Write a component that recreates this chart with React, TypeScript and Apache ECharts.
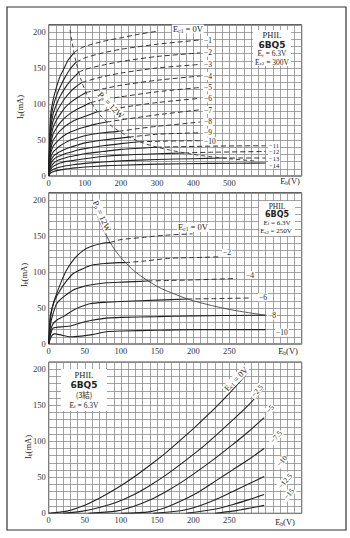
import React, { useEffect, useRef } from "react";
import * as echarts from "echarts";

// ---------- Panel 1 : PHIL 6BQ5, Ef = 6.3V, Ec2 = 300V ----------
const P1_X_TICKS = [0, 100, 200, 300, 400, 500];
const Y_TICKS = [0, 50, 100, 150, 200];
const PP_LIMIT = 12000; // Pp = 12 W  (V x mA)

const P1_EC1_0 = [[0,0],[3,60],[6,88],[12,105],[22,124],[31,138],[40,147],[54,161],[70,171],[80,175],[100,180],[150,187],[200,192],[250,197],[300,201]];
const P1_EC1_1 = [[0,0],[3,52],[6,78],[12,96],[22,112],[32,124],[45,137],[60,149],[76,158],[100,164],[150,171],[200,176],[300,183],[420,189]];
const P1_EC1_2 = [[0,0],[3,45],[6,68],[12,86],[22,100],[32,111],[45,122],[60,132],[83,144],[100,148],[150,154],[200,159],[300,166],[420,171]];
const P1_EC1_3 = [[0,0],[3,40],[6,60],[12,76],[22,89],[32,98],[45,108],[60,117],[75,124],[92,130],[150,138],[200,143],[300,150],[420,155]];
const P1_EC1_4 = [[0,0],[3,35],[6,52],[12,67],[22,78],[32,86],[45,95],[60,102],[80,109],[103,116],[150,121],[200,126],[300,133],[420,139]];
const P1_EC1_5 = [[0,0],[3,30],[6,45],[12,58],[22,67],[32,74],[45,81],[60,87],[80,93],[100,98],[116,102],[150,106],[200,110],[300,117],[420,123]];
const P1_EC1_6 = [[0,0],[3,26],[6,38],[12,49],[22,57],[32,63],[45,69],[60,74],[80,79],[100,83],[133,89],[200,95],[300,102],[420,108]];
const P1_EC1_7 = [[0,0],[3,22],[6,32],[12,41],[22,47],[32,52],[45,57],[60,61],[80,65],[100,68],[130,72],[160,75],[200,78],[300,85],[420,92]];
const P1_EC1_8 = [[0,0],[3,18],[6,26],[12,33],[22,38],[32,42],[45,46],[60,50],[80,53],[100,56],[150,60],[194,62],[250,66],[300,69],[420,75]];
const P1_EC1_9 = [[0,0],[3,14],[6,21],[12,27],[22,31],[32,34],[45,37],[60,40],[80,43],[100,46],[150,50],[222,54],[300,58],[420,60]];
const P1_EC1_10 = [[0,0],[3,11],[6,17],[12,22],[22,26],[32,28],[45,31],[60,33],[80,36],[100,38],[150,42],[200,45],[250,47.5],[325,48.5],[420,49]];
const P1_EC1_11 = [[0,0],[3,9],[6,13],[12,17],[22,21],[32,23],[45,25],[60,27],[80,29],[100,31],[150,34],[200,37],[300,40],[450,41.5],[600,42]];
const P1_EC1_12 = [[0,0],[3,7],[6,10],[12,13],[22,16],[32,18],[45,20],[60,21],[80,22.5],[100,24],[150,27],[200,29],[300,31],[375,32],[450,33],[600,34]];
const P1_EC1_13 = [[0,0],[3,5],[6,7],[12,9],[22,11],[32,12.5],[45,14],[60,15],[80,16.5],[100,17.5],[150,19.5],[200,21],[300,23],[400,24],[480,25],[600,25]];
const P1_EC1_14 = [[0,0],[3,3],[6,4.5],[12,6],[22,7.5],[32,8.5],[45,9.5],[60,10.5],[80,11.5],[100,12.5],[150,14],[200,15],[300,16.5],[450,17.5],[600,18]];
const P1_CURVES = [P1_EC1_0, P1_EC1_1, P1_EC1_2, P1_EC1_3, P1_EC1_4, P1_EC1_5, P1_EC1_6, P1_EC1_7, P1_EC1_8, P1_EC1_9, P1_EC1_10, P1_EC1_11, P1_EC1_12, P1_EC1_13, P1_EC1_14];
const P1_LABELS = ["−1", "−2", "−3", "−4", "−5", "−6", "−7", "−8", "−9", "−10", "−11", "−12", "−13", "−14"];
const P1_PP = [[59,203],[65,185],[75,160],[90,133],[110,109],[140,86],[180,67],[240,50],[300,40],[400,30],[500,24],[570,21]];

// ---------- Panel 2 : PHIL 6BQ5, Ef = 6.3V, Ec2 = 250V ----------
const P2_X_TICKS = [0, 50, 100, 150, 200, 250];
const P2_EC1_0 = [[0,0],[2,38],[6,55],[11,70],[18,88],[25,103],[35,118],[48,130],[60,136],[75,140],[85,141],[100,145],[130,148],[160,151],[199,153]];
const P2_EC1_2 = [[0,0],[3,40],[8,60],[16,75],[25,88],[34,98],[48,105],[62,110],[80,112],[98,113],[106,113],[130,115],[167,119],[200,120],[237,121]];
const P2_EC1_4 = [[0,0],[3,30],[6,42],[11,56],[20,65],[34,75],[45,79],[57,82],[80,85],[103,86],[137,87.5],[167,88.3],[200,89],[260,91]];
const P2_EC1_6 = [[0,0],[3,20],[6,28],[11,33],[20,38],[34,47],[45,52],[57,56],[80,58],[100,59],[150,61],[192,62.5],[230,63],[280,64]];
const P2_EC1_8 = [[0,0],[3,15],[6,22],[10,23],[20,24],[30,25],[40,28],[50,31],[60,33],[80,36],[100,37],[150,38],[200,39],[300,40]];
const P2_EC1_10 = [[0,0],[4,11],[8,14],[15,13],[30,10],[45,11],[60,13],[80,17],[100,18],[150,19],[200,20],[300,20]];
const P2_CURVES = [P2_EC1_0, P2_EC1_2, P2_EC1_4, P2_EC1_6, P2_EC1_8, P2_EC1_10];
const P2_LABELS = ["−2", "−4", "−6", "−8", "−10"];
const P2_PP = [[60,200],[65,185],[70,171],[80,150],[90,133],[100,120],[120,100],[150,80],[175,69],[200,60],[250,48],[300,40]];

// ---------- Panel 3 : PHIL 6BQ5 (3結 triode), Ef = 6.3V ----------
const P3_EC1_0 = [[0,0],[25,3],[47,10],[70,21],[93,34],[116,49],[139,66],[162,84],[185,104],[208,125],[231,147],[253,170],[275,195]];
const P3_EC1_2_5 = [[20,0],[47,3],[70,8],[93,15],[116,25],[139,38],[162,53],[185,70],[208,88],[231,108],[254,129],[277,151],[298,174]];
const P3_EC1_5 = [[55,0],[93,3],[116,9],[139,18],[162,30],[185,44],[208,60],[231,77],[254,95],[277,114],[298,133]];
const P3_EC1_7_5 = [[100,0],[139,2],[162,8],[185,18],[208,30],[231,45],[254,60],[277,75],[298,90]];
const P3_EC1_10 = [[145,0],[185,4],[208,10],[231,19],[254,30],[277,41],[298,51]];
const P3_EC1_12_5 = [[190,0],[231,6],[254,12],[277,19],[298,26]];
const P3_EC1_15 = [[230,0],[254,3],[277,7],[298,11]];
const P3_CURVES = [P3_EC1_0, P3_EC1_2_5, P3_EC1_5, P3_EC1_7_5, P3_EC1_10, P3_EC1_12_5, P3_EC1_15];
const P3_LABELS = ["−2.5", "−5", "−7.5", "−10", "−12.5", "−15"];

const SERIF = '"Liberation Serif", "DejaVu Serif", serif';
const SANS = '"DejaVu Sans", "Liberation Sans", sans-serif';
const INK = "#222";

function splitByPower(pts: number[][], limit: number) {
  const solid: number[][] = [];
  const dashed: number[][] = [];
  let i = 0;
  for (; i < pts.length && pts[i][0] * pts[i][1] <= limit * 1.02; i++) solid.push(pts[i]);
  if (i < pts.length) {
    dashed.push(solid[solid.length - 1]);
    for (; i < pts.length; i++) dashed.push(pts[i]);
  }
  return { solid, dashed };
}

function line(data: number[][], idx: number, dashed = false, extra: any = {}) {
  return {
    type: "line",
    data,
    xAxisIndex: idx,
    yAxisIndex: idx,
    showSymbol: false,
    symbol: "none",
    smooth: 0.25,
    silent: true,
    lineStyle: dashed
      ? { color: "#333", width: 1, type: [5, 3] }
      : { color: INK, width: 1.1 },
    z: 5,
    ...extra,
  };
}

function richSet(size: number) {
  return {
    n: { fontSize: size, fontFamily: SERIF, fill: INK },
    s: { fontSize: Math.round(size * 0.65 * 10) / 10, fontFamily: SERIF, fill: INK, verticalAlign: "bottom" },
  };
}

function txt(x: number, y: number, text: string, o: any = {}) {
  return {
    type: "text",
    x,
    y,
    rotation: o.rot || 0,
    z: 100,
    silent: true,
    style: {
      text,
      fill: INK,
      font: o.font || `${o.size || 8.5}px ${SERIF}`,
      align: o.align || "center",
      verticalAlign: "middle",
      backgroundColor: o.bg,
      padding: o.pad,
      rich: o.rich ? richSet(o.size || 8.5) : undefined,
    },
  };
}

function xAxis(idx: number, max: number, interval: number, ticks: number[]) {
  return {
    gridIndex: idx,
    type: "value",
    min: 0,
    max,
    interval,
    axisLine: { show: false },
    axisTick: { show: false },
    splitLine: { show: true, lineStyle: { color: "#8c8c8c", width: 0.8 } },
    axisLabel: {
      margin: 2,
      fontSize: 8.5,
      fontFamily: SERIF,
      color: "#333",
      formatter: (v: number) => (ticks.includes(v) ? String(v) : ""),
    },
  };
}

function yAxis(idx: number) {
  return {
    gridIndex: idx,
    type: "value",
    min: 0,
    max: 210,
    interval: 10,
    axisLine: { show: false },
    axisTick: { show: false },
    splitLine: { show: true, lineStyle: { color: "#8c8c8c", width: 0.8 } },
    axisLabel: {
      margin: 3,
      fontSize: 8.5,
      fontFamily: SERIF,
      color: "#333",
      formatter: (v: number) => (Y_TICKS.includes(v) ? String(v) : ""),
    },
  };
}

function buildOption() {
  const series: any[] = [];
  P1_CURVES.forEach((c) => {
    const { solid, dashed } = splitByPower(c, PP_LIMIT);
    series.push(line(solid, 0));
    if (dashed.length) series.push(line(dashed, 0, true));
  });
  series.push(line(P1_PP, 0, false, { smooth: 0.3, lineStyle: { color: "#333", width: 0.9, type: [4, 3] } }));

  P2_CURVES.forEach((c) => {
    const { solid, dashed } = splitByPower(c, PP_LIMIT);
    series.push(line(solid, 1));
    if (dashed.length) series.push(line(dashed, 1, true));
  });
  series.push(line(P2_PP, 1, false, { smooth: 0.3, lineStyle: { color: "#333", width: 0.8 } }));

  P3_CURVES.forEach((c) => series.push(line(c, 2)));

  const grids = [
    { left: 48.7, top: 24.8, width: 253, height: 151.2 },
    { left: 48.7, top: 192.8, width: 253, height: 151.2 },
    { left: 48.7, top: 362.1, width: 253, height: 151.2 },
  ].map((g) => ({ ...g, show: true, borderColor: INK, borderWidth: 1, backgroundColor: "transparent" }));

  const graphic: any[] = [
    { type: "rect", shape: { x: 7, y: 7, width: 339, height: 523 }, style: { fill: "none", stroke: "#333", lineWidth: 1.2 }, silent: true, z: 0 },
  ];

  // Panel 1 annotations
  graphic.push(txt(20, 107, "{n|I}{s|b}{n|(mA)}", { rich: true, rot: Math.PI / 2 }));
  graphic.push(txt(290, 181, "{n|E}{s|b}{n|(V)}", { rich: true }));
  graphic.push(txt(172, 29, "{n|E}{s|c1}{n| = 0V}", { rich: true, align: "left", bg: "#fff", pad: [0, 1] }));
  const p1y = [40, 52.7, 64, 76, 87.3, 98.3, 110, 121.8, 132.6, 141.2, 145, 151.7, 158.4, 165.1];
  P1_LABELS.forEach((l, i) => {
    graphic.push(txt(i < 10 ? 203 : 268, p1y[i], l, { align: "left", size: i < 10 ? 7.5 : 6.5, bg: "#fff", pad: [0, 1] }));
  });
  graphic.push(txt(111, 105, "{n|P}{s|p}{n| = 12W}", { rich: true, rot: -0.8, bg: "#fff", pad: [0, 1] }));
  graphic.push({ type: "rect", shape: { x: 253, y: 30, width: 38, height: 36 }, style: { fill: "#fff" }, z: 90, silent: true });
  graphic.push(txt(272, 35, "PHIL", { size: 8.5 }));
  graphic.push(txt(272, 44.5, "6BQ5", { font: `bold 9px ${SANS}` }));
  graphic.push(txt(272, 53.5, "{n|E}{s|f}{n| = 6.3V}", { rich: true, size: 7.5 }));
  graphic.push(txt(272, 62, "{n|E}{s|c2}{n| = 300V}", { rich: true, size: 7.5 }));

  // Panel 2 annotations
  graphic.push(txt(24, 275, "{n|I}{s|b}{n|(mA)}", { rich: true, rot: Math.PI / 2 }));
  graphic.push(txt(288, 351, "{n|E}{s|b}{n|(V)}", { rich: true }));
  graphic.push(txt(177, 227.3, "{n|E}{s|c1}{n| = 0V}", { rich: true, align: "left", bg: "#fff", pad: [0, 1] }));
  const p2pos = [[222, 252.7], [245, 275], [258, 297.3], [267, 315.7], [275, 332.7]];
  P2_LABELS.forEach((l, i) => graphic.push(txt(p2pos[i][0], p2pos[i][1], l, { align: "left", size: 7.5, bg: "#fff", pad: [0, 1] })));
  graphic.push(txt(102, 216, "{n|P}{s|p}{n| = 12W}", { rich: true, rot: -1.15, bg: "#fff", pad: [0, 1] }));
  graphic.push({ type: "rect", shape: { x: 259, y: 201, width: 36, height: 35 }, style: { fill: "#fff" }, z: 90, silent: true });
  graphic.push(txt(277, 206, "PHIL", { size: 7.5 }));
  graphic.push(txt(277, 214, "6BQ5", { font: `bold 8px ${SANS}` }));
  graphic.push(txt(277, 222.5, "{n|E}{s|f}{n| = 6.3V}", { rich: true, size: 7 }));
  graphic.push(txt(276, 231, "{n|E}{s|c2}{n| = 250V}", { rich: true, size: 7 }));

  // Panel 3 annotations
  graphic.push(txt(28, 447, "{n|I}{s|b}{n|(mA)}", { rich: true, rot: Math.PI / 2 }));
  graphic.push(txt(285, 522, "{n|E}{s|b}{n|(V)}", { rich: true }));
  graphic.push(txt(236, 379, "{n|E}{s|c1}{n| = 0V}", { rich: true, rot: 0.8, bg: "#fff", pad: [0, 1] }));
  const p3pos = [[257, 391], [270, 409], [276, 437], [282, 461], [285, 481], [289, 494]];
  P3_LABELS.forEach((l, i) => graphic.push(txt(p3pos[i][0], p3pos[i][1], l, { rot: 0.85, size: 7.5, bg: "#fff", pad: [0, 1] })));
  graphic.push({ type: "rect", shape: { x: 61, y: 369, width: 46, height: 42 }, style: { fill: "#fff" }, z: 90, silent: true });
  graphic.push(txt(84, 375, "PHIL", { size: 8.5 }));
  graphic.push(txt(84, 385, "6BQ5", { font: `bold 9px ${SANS}` }));
  graphic.push(txt(84, 394.5, "(3結)", { font: `7.5px "Noto Sans CJK JP", ${SERIF}` }));
  graphic.push(txt(84, 405, "{n|E}{s|f}{n| = 6.3V}", { rich: true, size: 7.5 }));

  return {
    animation: false,
    backgroundColor: "#fff",
    grid: grids,
    xAxis: [xAxis(0, 700, 20, P1_X_TICKS), xAxis(1, 350, 10, P2_X_TICKS), xAxis(2, 350, 10, P2_X_TICKS)],
    yAxis: [yAxis(0), yAxis(1), yAxis(2)],
    series,
    graphic,
  };
}

export default function App() {
  const ref = useRef<HTMLDivElement>(null);
  useEffect(() => {
    if (!ref.current) return;
    const chart = echarts.init(ref.current, undefined, { renderer: "svg" });
    chart.setOption(buildOption() as any);
    return () => chart.dispose();
  }, []);
  return (
    <div
      ref={ref}
      style={{ position: "fixed", left: 0, top: 0, width: 350, height: 538, background: "#fff" }}
    />
  );
}
